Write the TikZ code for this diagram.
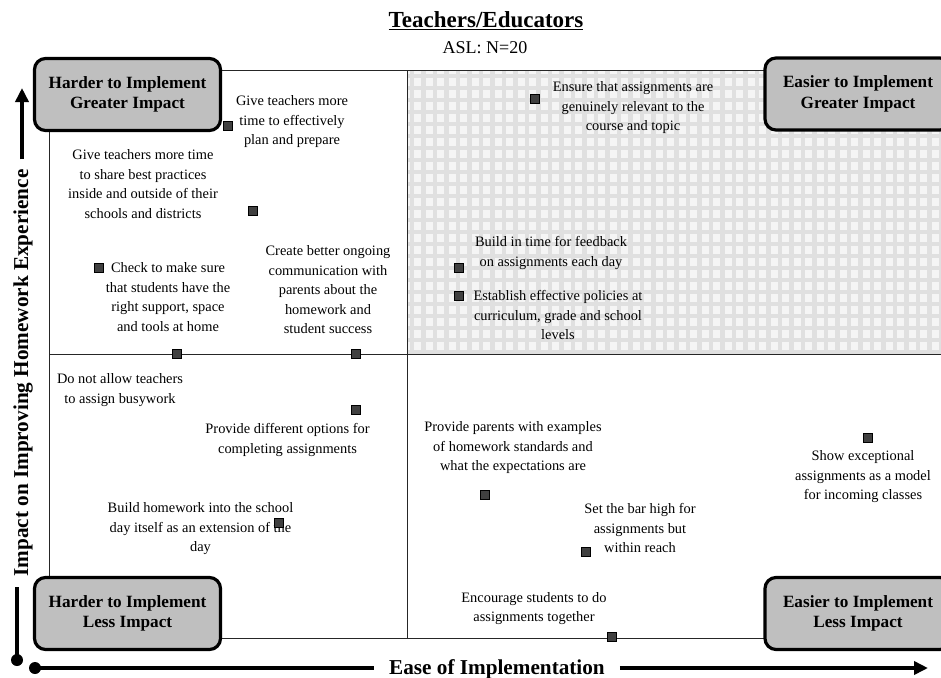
\documentclass[tikz,border=0pt]{standalone}
\usepackage{fontspec}
\setmainfont{Liberation Serif}
\usetikzlibrary{arrows.meta,positioning,calc}

\begin{document}
\begin{tikzpicture}[x=1pt,y=-1pt,>={Triangle[length=14pt,width=13pt]},
  quadbox/.style={draw,line width=3.2pt,rounded corners=11pt,fill=black!25,
    minimum width=186pt,minimum height=72pt,align=center,
    font=\fontsize{17.2}{20.7}\selectfont\bfseries},
  idea/.style={align=center,inner sep=0pt,font=\fontsize{14.4}{19.5}\selectfont},
  itemdot/.style={draw=black,fill=black!75,line width=0.5pt,minimum size=9pt,inner sep=0pt},
  axislabel/.style={font=\fontsize{21.2}{24}\selectfont\bfseries,inner sep=0pt}]
  \useasboundingbox (0,0) rectangle (941,677);
  \clip (0,0) rectangle (941,677);

  % shaded quadrant: easier to implement, greater impact
  \begin{scope}
    \clip (407,70) rectangle (941,354);
    \fill[black!4] (407,70) rectangle (941,354);
    \foreach \gx in {412,423.5,...,941}
      \draw[black!12,line width=4.5pt] (\gx,70) -- (\gx,354);
    \foreach \gy in {76,88,...,354}
      \draw[black!12,line width=4.5pt] (407,\gy) -- (941,\gy);
  \end{scope}

  % frame and quadrant lines
  \draw[black!85,line width=0.8pt] (49,70) rectangle (960,638);
  \draw[black!85,line width=0.8pt] (407,70) -- (407,638);
  \draw[black!85,line width=0.8pt] (49,354) -- (960,354);

  % title
  \node[anchor=base,font=\fontsize{23}{27}\selectfont\bfseries] (title) at (486,28) {\underline{Teachers/Educators}};
  \node[font=\fontsize{18}{21}\selectfont] (sample) at (485,48) {ASL: N=20};

  % corner boxes
  \node[quadbox] (hardgreat) at (127.5,94.5) {Harder to Implement\\Greater Impact};
  \node[quadbox] (hardless) at (127.5,613.5) {Harder to Implement\\Less Impact};
  \node[quadbox] (easygreat) at (858,94) {Easier to Implement\\Greater Impact};
  \node[quadbox] (easyless) at (858,613.5) {Easier to Implement\\Less Impact};

  % axes
  \coordinate (ydot) at (17,660);
  \coordinate (ytip) at (22,88);
  \node[axislabel,rotate=90,inner xsep=10pt] (ylab) at (23,373) {Impact on Improving Homework Experience};
  \draw[line width=4pt] (ydot) -- (ydot |- ylab.west);
  \draw[line width=4pt,->] (ytip |- ylab.east) -- (ytip);
  \fill (ydot) circle (6);

  \coordinate (xdot) at (35,668);
  \coordinate (xtip) at (928,668);
  \node[axislabel,inner xsep=15pt] (xlab) at (497,669) {Ease of Implementation};
  \draw[line width=4pt] (xdot) -- (xlab.west |- xdot);
  \draw[line width=4pt,->] (xlab.east |- xdot) -- (xtip);
  \fill (xdot) circle (6);

  % ideas
  \node[idea] (plan) at (292,122) {Give teachers more\\time to effectively\\plan and prepare};
  \node[idea] (share) at (143,184) {Give teachers more time\\to share best practices\\inside and outside of their\\schools and districts};
  \node[idea] (check) at (168,297) {Check to make sure\\that students have the\\right support, space\\and tools at home};
  \node[idea] (create) at (328,290) {Create better ongoing\\communication with\\parents about the\\homework and\\student success};
  \node[idea] (ensure) at (633,108) {Ensure that assignments are\\genuinely relevant to the\\course and topic};
  \node[idea] (feedback) at (551,253) {Build in time for feedback\\on assignments each day};
  \node[idea] (policies) at (558,315) {Establish effective policies at\\curriculum, grade and school\\levels};
  \node[idea] (busywork) at (120,390) {Do not allow teachers\\to assign busywork};
  \node[idea] (options) at (287.5,440) {Provide different options for\\completing assignments};
  \node[idea] (extension) at (200.5,529) {Build homework into the school\\day itself as an extension of the\\day};
  \node[idea] (parents) at (513,448) {Provide parents with examples\\of homework standards and\\what the expectations are};
  \node[idea] (bar) at (640,528) {Set the bar high for\\assignments but\\within reach};
  \node[idea] (show) at (863,477) {Show exceptional\\assignments as a model\\for incoming classes};
  \node[idea] (encourage) at (534,608.5) {Encourage students to do\\assignments together};

  % markers
  \node[itemdot] (m-plan) at (228,126) {};
  \node[itemdot] (m-share) at (253,211) {};
  \node[itemdot] (m-check) at (99,268) {};
  \node[itemdot] (m-busywork) at (177,354) {};
  \node[itemdot] (m-create) at (356,354) {};
  \node[itemdot] (m-ensure) at (535,99) {};
  \node[itemdot] (m-feedback) at (459,268) {};
  \node[itemdot] (m-policies) at (459,296) {};
  \node[itemdot] (m-options) at (356,410) {};
  \node[itemdot] (m-extension) at (279,523) {};
  \node[itemdot] (m-parents) at (484.5,495) {};
  \node[itemdot] (m-bar) at (586,552) {};
  \node[itemdot] (m-show) at (868,438) {};
  \node[itemdot] (m-encourage) at (612,637) {};
\end{tikzpicture}
\end{document}
